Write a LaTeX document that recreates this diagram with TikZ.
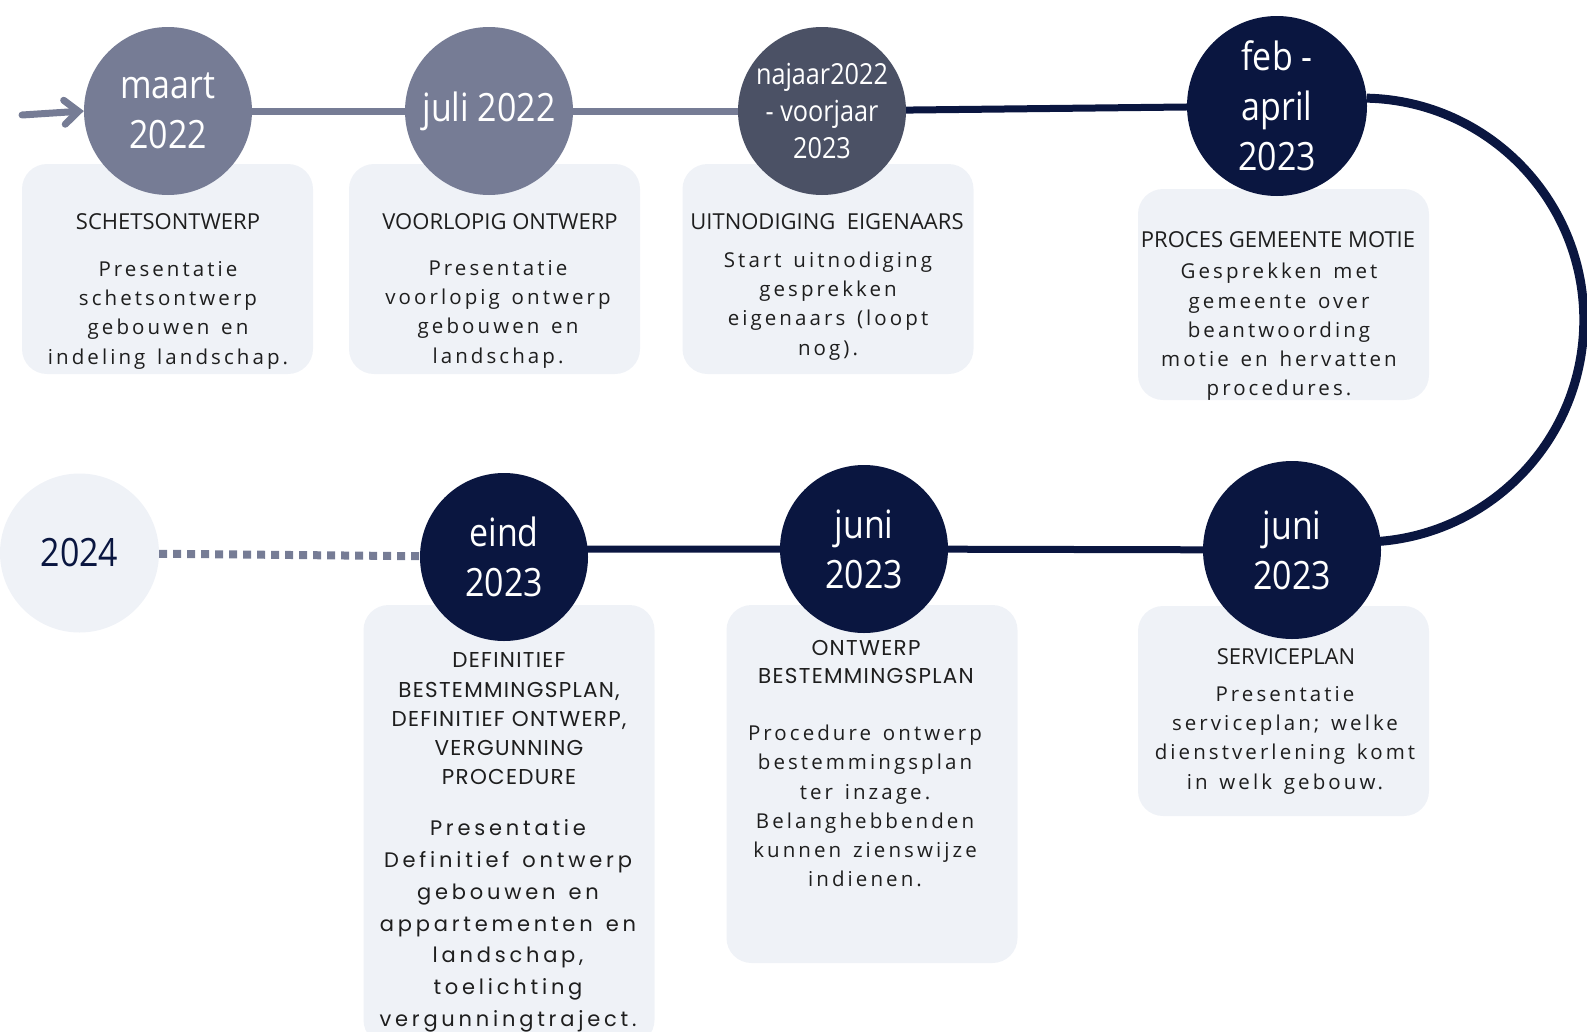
\documentclass[tikz,border=0pt]{standalone}
\usepackage{fontspec}
\usetikzlibrary{arrows.meta}
\newfontfamily\datefont[FakeStretch=0.87]{Open Sans}
\newfontfamily\headfont{Open Sans}
\newfontfamily\cardfont[LetterSpace=15, WordSpace=1.4]{Open Sans}
\newfontfamily\geoheadfont[LetterSpace=6]{Poppins}
\newfontfamily\geocardfont[LetterSpace=18, WordSpace=1.4]{Poppins}
\definecolor{slate}{HTML}{767C95}
\definecolor{dusk}{HTML}{4B5165}
\definecolor{navy}{HTML}{0A1640}
\definecolor{mist}{HTML}{EFF2F7}
\definecolor{ink}{HTML}{1E1E1E}
\pgfdeclarelayer{bg}
\pgfsetlayers{bg,main}
\tikzset{
	datestop/.style={circle, inner sep=0pt, minimum size=168pt, text=white, align=center, font=\datefont\fontsize{39}{50}\selectfont},
	card/.style={rounded corners=25pt, fill=mist, minimum width=291pt, inner sep=0pt},
	cardhead/.style={inner sep=0pt, align=center, text=ink, font=\headfont\fontsize{22}{28}\selectfont},
	cardtext/.style={inner sep=0pt, align=center, text=ink, font=\cardfont\fontsize{20.5}{29.3}\selectfont},
	geohead/.style={inner sep=0pt, align=center, text=ink, font=\geoheadfont\fontsize{21.5}{29.25}\selectfont},
	geotext/.style={inner sep=0pt, align=center, text=ink, font=\geocardfont\fontsize{21}{31.8}\selectfont},
	track/.style={line width=7pt},
}

\begin{document}
\begin{tikzpicture}[x=1pt, y=-1pt]
			%%%%% START %%%%%
			\useasboundingbox (0,0) rectangle (1587,1031);
			
			% cards
			\node[card, minimum height=210pt] (k1) at (167.5,269) {};
			\node[card, minimum height=210pt] (k2) at (494.5,269) {};
			\node[card, minimum height=210pt] (k3) at (828,269) {};
			\node[card, minimum height=211pt] (k4) at (1283.5,294.5) {};
			\node[card, minimum height=440pt] (k5) at (509,825) {};
			\node[card, minimum height=358pt] (k6) at (872,784) {};
			\node[card, minimum height=210pt] (k7) at (1283.5,711) {};
			
			% dates
			\node[datestop, fill=slate] (s1) at (168,111) {maart\\2022};
			\node[datestop, fill=slate] (s2) at (489,111) {juli 2022};
			\node[datestop, fill=dusk, font=\datefont\fontsize{29}{37}\selectfont] (s3) at (822,111) {najaar2022\\- voorjaar\\2023};
			\node[datestop, fill=navy, minimum size=180pt] (s4) at (1277,106) {feb -\\april\\2023};
			\node[datestop, fill=navy, minimum size=178pt] (s7) at (1292,550) {juni\\2023};
			\node[datestop, fill=navy] (s6) at (864,549) {juni\\2023};
			\node[datestop, fill=navy] (s5) at (504,557) {eind\\2023};
			\node[datestop, fill=mist, text=navy, minimum size=159pt] (s0) at (79.5,553) {2024};
			\coordinate (start) at (22,115);
			
			% texts
			\node[cardhead] (h1) at (168,222) {SCHETSONTWERP};
			\node[cardtext] (t1) at (168,315) {Presentatie\\schetsontwerp\\gebouwen en\\indeling landschap.};
			
			\node[cardhead] (h2) at (500,222) {VOORLOPIG ONTWERP};
			\node[cardtext] (t2) at (498,314) {Presentatie\\voorlopig ontwerp\\gebouwen en\\landschap.};
			
			\node[cardhead] (h3) at (827,222) {UITNODIGING~~EIGENAARS};
			\node[cardtext] (t3) at (828,306) {Start uitnodiging\\gesprekken\\eigenaars (loopt\\nog).};
			
			\node[cardhead] (h4) at (1278,240) {PROCES GEMEENTE MOTIE};
			\node[cardtext] (t4) at (1279,332) {Gesprekken met\\gemeente over\\beantwoording\\motie en hervatten\\procedures.};
			
			\node[geohead] (h5) at (509,719) {DEFINITIEF\\BESTEMMINGSPLAN,\\DEFINITIEF ONTWERP,\\VERGUNNING\\PROCEDURE};
			\node[geotext] (t5) at (508,926) {Presentatie\\Definitief ontwerp\\gebouwen en\\appartementen en\\landschap,\\toelichting\\vergunningtraject.};
			
			\node[geohead, font=\geoheadfont\fontsize{21.5}{28}\selectfont] (h6) at (866,662) {ONTWERP\\BESTEMMINGSPLAN};
			\node[cardtext] (t6) at (865,806) {Procedure ontwerp\\bestemmingsplan\\ter inzage.\\Belanghebbenden\\kunnen zienswijze\\indienen.};
			
			\node[cardhead] (h7) at (1286,657) {SERVICEPLAN};
			\node[cardtext] (t7) at (1285,740) {Presentatie\\serviceplan; welke\\dienstverlening komt\\in welk gebouw.};
			
			% timeline
			\begin{pgfonlayer}{bg}
				\draw[track, slate, line cap=round, -{Straight Barb[length=14pt, width=24pt, line cap=round]}] (start) -- (s1.west);
				\draw[track, slate] (s1) -- (s2) -- (s3);
				\draw[track, navy] (s3) -- (s4);
				\draw[navy, line width=9pt] (s4.5) arc[start angle=-88.7, end angle=88, radius=222];
				\draw[track, navy] (s7) -- (s6) -- (s6 -| s5);
				\draw[slate, line width=8pt, dash pattern=on 8pt off 6pt] (s0) -- (s5);
			\end{pgfonlayer}
			
			%%%%% END %%%%%
\end{tikzpicture}
\end{document}
